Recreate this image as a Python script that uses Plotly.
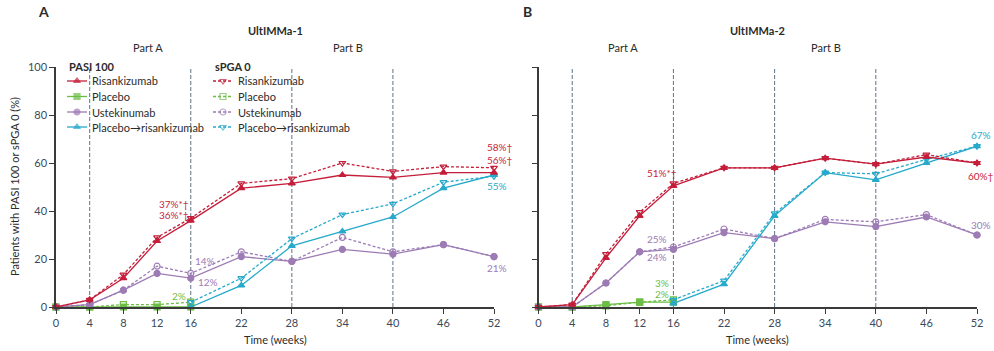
import plotly.graph_objects as go

weeks = [0, 4, 8, 12, 16, 22, 28, 34, 40, 46, 52]
pbo_weeks = [0, 4, 8, 12, 16]
p2r_weeks = [16, 22, 28, 34, 40, 46, 52]
tick_weeks = [0, 4, 8, 12, 16, 22, 28, 34, 40, 46, 52]
y_ticks = [0, 20, 40, 60, 80, 100]
part_lines = [4, 16, 28, 40]

# UltIMMa-1 (panel A)
risa_pasi_A = [0, 3, 12, 27.5, 36, 49.5, 51.5, 55, 54, 56, 56]
risa_spga_A = [0, 3, 13.5, 29, 37, 51.5, 53.5, 60, 56.5, 58.5, 58]
pbo_pasi_A = [0, 0, 0, 0, 0]
pbo_spga_A = [0, 0, 1, 1, 2]
uste_pasi_A = [0, 1, 7, 14, 12, 21, 19, 24, 22, 26, 21]
uste_spga_A = [0, 1, 7, 17, 14, 23, 19, 29, 23, 26, 21]
p2r_pasi_A = [0, 9, 25.5, 31.5, 37.5, 49.5, 55]
p2r_spga_A = [2, 12, 28.5, 38.5, 43, 52, 54.5]

# UltIMMa-2 (panel B)
risa_pasi_B = [0, 1, 20.5, 38, 50.5, 58, 58, 62, 59.5, 62.5, 60]
risa_spga_B = [0, 1, 22, 39.5, 51.5, 58, 58, 62, 59.5, 63.5, 60]
pbo_pasi_B = [0, 0, 1, 2, 2]
pbo_spga_B = [0, 0, 0.5, 2, 3]
uste_pasi_B = [0, 0, 10, 23, 24, 31, 28.5, 35.5, 33.5, 37.5, 30]
uste_spga_B = [0, 0, 10, 23, 25, 32.5, 28.5, 36.5, 35.5, 38.5, 30]
p2r_pasi_B = [1.5, 9.5, 38, 56, 53, 60, 67]
p2r_spga_B = [3, 11, 39, 56, 55.5, 61.5, 67]

legend_names = ["Risankizumab", "Placebo", "Ustekinumab", "Placebo→risankizumab"]

RED = "#C41E3A"
GREEN = "#6CBD45"
PURPLE = "#9D7BB5"
BLUE = "#27A9CB"
VLINE = "#5E7382"
AX = "#3a3a3a"
TXT = "#2b2b2b"
FONT = "Lato"
MS = 6

fig = go.Figure()

def add(x, y, color, symbol, dashed, xa, ya):
    fig.add_trace(go.Scatter(
        x=x, y=y, mode="lines+markers", showlegend=False, hoverinfo="skip",
        line=dict(color=color, width=1.3, dash="3px,2px" if dashed else "solid"),
        marker=dict(symbol=symbol, size=MS, color=color,
                    line=dict(color=color, width=1.2)),
        xaxis=xa, yaxis=ya, cliponaxis=False))

panels = {
    ("x", "y"): (risa_pasi_A, risa_spga_A, pbo_pasi_A, pbo_spga_A, uste_pasi_A, uste_spga_A, p2r_pasi_A, p2r_spga_A),
    ("x2", "y2"): (risa_pasi_B, risa_spga_B, pbo_pasi_B, pbo_spga_B, uste_pasi_B, uste_spga_B, p2r_pasi_B, p2r_spga_B),
}
for (xa, ya), (rp, rs, pp, ps, up, us, bp, bs) in panels.items():
    add(pbo_weeks, ps, GREEN, "square-open", True, xa, ya)
    add(pbo_weeks, pp, GREEN, "square", False, xa, ya)
    add(weeks, us, PURPLE, "circle-open", True, xa, ya)
    add(weeks, up, PURPLE, "circle", False, xa, ya)
    add(p2r_weeks, bs, BLUE, "triangle-down-open", True, xa, ya)
    add(p2r_weeks, bp, BLUE, "triangle-up", False, xa, ya)
    add(weeks, rs, RED, "triangle-down-open", True, xa, ya)
    add(weeks, rp, RED, "triangle-up", False, xa, ya)

W, H = 994, 351
def px_x(p): return p / W
def px_y(p): return (H - p) / H

# manual legend on an overlay axis in pixel units
leg_colors = [RED, GREEN, PURPLE, BLUE]
solid_sym = ["triangle-up", "square", "circle", "triangle-up"]
open_sym = ["triangle-down-open", "square-open", "circle-open", "triangle-down-open"]
row_y = [81, 96.5, 112, 127]
ann = []
for col_x, syms, dashed in [(67, solid_sym, False), (213, open_sym, True)]:
    for i, nm in enumerate(legend_names):
        yy = row_y[i]
        fig.add_trace(go.Scatter(
            x=[col_x, col_x + 10, col_x + 20], y=[yy, yy, yy], mode="lines+markers",
            showlegend=False, hoverinfo="skip", xaxis="x3", yaxis="y3", cliponaxis=False,
            line=dict(color=leg_colors[i], width=1.3, dash="3px,2px" if dashed else "solid"),
            marker=dict(symbol=syms[i], size=[0, MS, 0], color=leg_colors[i],
                        line=dict(color=leg_colors[i], width=1.2))))
        ann.append(dict(xref="paper", yref="paper", x=px_x(col_x + 23), y=px_y(yy), text=nm,
                        showarrow=False, xanchor="left", yanchor="middle",
                        font=dict(size=11, color=TXT, family=FONT)))

ydom = [px_y(307), px_y(67)]
xdomA = [px_x(56), px_x(494)]
xdomB = [px_x(538.5), px_x(977)]

shapes = []
for xr, yr in [("x", "y"), ("x2", "y2")]:
    for w in part_lines:
        shapes.append(dict(type="line", xref=xr, yref=yr, x0=w, x1=w, y0=0, y1=100,
                           line=dict(color=VLINE, width=1, dash="4px,2px"), layer="below"))

xaxis_common = dict(range=[0, 52], tickmode="array", tickvals=tick_weeks,
                    ticks="outside", ticklen=5, tickcolor=AX, showline=True,
                    linecolor=AX, linewidth=1.5, showgrid=False, zeroline=False,
                    automargin=False,
                    tickfont=dict(size=11, color="#3b4a5a", family=FONT))
yaxis_common = dict(range=[0, 100], tickmode="array", tickvals=y_ticks,
                    ticks="outside", ticklen=5, tickcolor=AX, showline=True,
                    linecolor=AX, linewidth=1.5, showgrid=False, zeroline=False,
                    automargin=False,
                    tickfont=dict(size=11, color="#3b4a5a", family=FONT), domain=ydom)

fig.update_layout(
    width=W, height=H, margin=dict(l=0, r=0, t=0, b=0, autoexpand=False),
    paper_bgcolor="white", plot_bgcolor="rgba(0,0,0,0)",
    font=dict(family=FONT, size=11, color=TXT),
    showlegend=False,
    xaxis=dict(domain=xdomA, anchor="y", **xaxis_common),
    xaxis2=dict(domain=xdomB, anchor="y2", **xaxis_common),
    yaxis=dict(anchor="x", **yaxis_common),
    yaxis2=dict(anchor="x2", showticklabels=False, **yaxis_common),
    xaxis3=dict(domain=[0, 1], range=[0, W], visible=False, fixedrange=True, anchor="y3"),
    yaxis3=dict(domain=[0, 1], range=[H, 0], visible=False, fixedrange=True, anchor="x3"),
    shapes=shapes,
)

def txt(x, y, text, size=11, color=TXT, bold=False, xanchor="center", angle=0):
    ann.append(dict(xref="paper", yref="paper", x=px_x(x), y=px_y(y),
                    text=("<b>%s</b>" % text) if bold else text,
                    showarrow=False, xanchor=xanchor, yanchor="middle", textangle=angle,
                    font=dict(size=size, color=color, family=FONT)))

txt(43, 12, "A", size=14, bold=True)
txt(527, 12, "B", size=14, bold=True)
txt(275, 31, "UltIMMa-1", size=11, bold=True)
txt(757, 31, "UltIMMa-2", size=11, bold=True)
txt(148, 48, "Part A")
txt(348, 48, "Part B")
txt(623, 48, "Part A")
txt(826, 48, "Part B")
txt(67, 67, "PASI 100", bold=True, xanchor="left")
txt(213, 67, "sPGA 0", bold=True, xanchor="left")
txt(275, 339, "Time (weeks)")
txt(757, 339, "Time (weeks)")
txt(15, 187, "Patients with PASI 100 or sPGA 0 (%)", angle=-90)

def dlab(xr, yr, x, y, text, color, xanchor, xs=0, ys=0):
    ann.append(dict(xref=xr, yref=yr, x=x, y=y, text=text, showarrow=False,
                    xanchor=xanchor, yanchor="middle", xshift=xs, yshift=ys,
                    font=dict(size=10, color=color, family=FONT)))

# Panel A labels
dlab("x", "y", 16, risa_spga_A[4], "37%*†", RED, "right", 0, 14)
dlab("x", "y", 16, risa_pasi_A[4], "36%*†", RED, "right", 0, 6)
dlab("x", "y", 16, uste_spga_A[4], "14%", PURPLE, "left", 2, 12)
dlab("x", "y", 16, uste_pasi_A[4], "12%", PURPLE, "left", 5, -4)
dlab("x", "y", 16, pbo_spga_A[4], "2%", GREEN, "right", -3, 6)
dlab("x", "y", 52, risa_spga_A[10], "58%†", RED, "center", 6, 21)
dlab("x", "y", 52, risa_pasi_A[10], "56%†", RED, "center", 6, 13)
dlab("x", "y", 52, p2r_pasi_A[6], "55%", BLUE, "center", 3, -11)
dlab("x", "y", 52, uste_pasi_A[10], "21%", PURPLE, "center", 3, -11)
# Panel B labels
dlab("x2", "y2", 16, risa_pasi_B[4], "51%*†", RED, "right", 6, 13)
dlab("x2", "y2", 16, uste_spga_B[4], "25%", PURPLE, "right", -4, 8)
dlab("x2", "y2", 16, uste_pasi_B[4], "24%", PURPLE, "right", -4, -8)
dlab("x2", "y2", 16, pbo_spga_B[4], "3%", GREEN, "right", -2, 17)
dlab("x2", "y2", 16, pbo_pasi_B[4], "2%", GREEN, "right", -2, 8)
dlab("x2", "y2", 52, p2r_pasi_B[6], "67%", BLUE, "center", 4, 11)
dlab("x2", "y2", 52, risa_pasi_B[10], "60%†", RED, "center", 4, -13)
dlab("x2", "y2", 52, uste_pasi_B[10], "30%", PURPLE, "center", 4, 10)

fig.update_layout(annotations=ann)
fig.write_html("out.html")
